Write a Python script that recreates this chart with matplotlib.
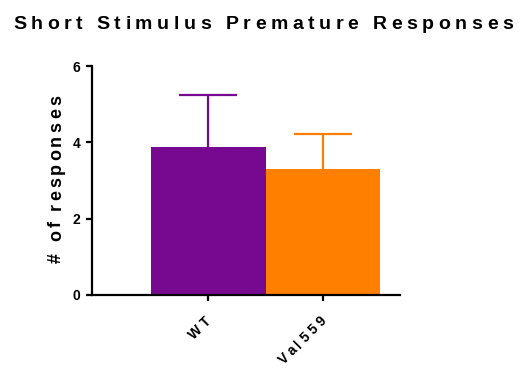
import numpy as np
import matplotlib
matplotlib.use("Agg")
import matplotlib.pyplot as plt
from matplotlib.font_manager import FontProperties, findfont
from matplotlib.ft2font import FT2Font
from matplotlib.transforms import IdentityTransform

# data
groups = ["WT", "Val559"]
means = [3.88, 3.29]
sems = [1.36, 0.93]
colors = ["#76098F", "#FF8000"]
yticks = [0, 2, 4, 6]

FONT = "Liberation Sans"
DPI = 100

fig = plt.figure(figsize=(5.25, 3.75), dpi=DPI, facecolor="white")
ax = fig.add_axes([92 / 525, 80 / 375, 308 / 525, 229 / 375])


def spaced_text(x, y, s, size, track, angle=0, align="center"):
    # letter-spaced bold text, x/y in pixels from the lower left corner
    fp = FontProperties(family=FONT, weight="bold", size=size)
    ft = FT2Font(findfont(fp))
    ft.set_size(size, DPI)
    adv = [ft.load_char(ord(c)).linearHoriAdvance / 65536 for c in s]
    total = sum(adv) + track * (len(s) - 1)
    pos = {"left": 0, "center": -total / 2, "right": -total}[align]
    ux, uy = np.cos(np.deg2rad(angle)), np.sin(np.deg2rad(angle))
    for c, a in zip(s, adv):
        fig.text(x + pos * ux, y + pos * uy, c, transform=IdentityTransform(),
                 fontproperties=fp, rotation=angle, rotation_mode="anchor",
                 ha="left", va="baseline", color="black")
        pos += a + track


x = np.arange(len(groups))
for xi, m, e, c in zip(x, means, sems, colors):
    eb = ax.errorbar(xi, m, yerr=[[0], [e]], fmt="none", ecolor=c,
                     elinewidth=1.6, capsize=21, capthick=1.6, zorder=1)
    # only the upper cap is wanted
    for cap in eb[1]:
        if np.allclose(cap.get_ydata(), m):
            cap.set_visible(False)
    ax.bar(xi, m, width=1.0, color=c, zorder=2)

ax.set_xlim(-1.01, 1.67)
ax.set_ylim(0, 6)
ax.set_yticks(yticks)
ax.set_xticks(x)
ax.set_xticklabels([])

for side in ["top", "right"]:
    ax.spines[side].set_visible(False)
for side in ["left", "bottom"]:
    ax.spines[side].set_linewidth(1.6)

ax.tick_params(axis="both", direction="out", length=4, width=1.6, color="black")
ax.tick_params(axis="y", pad=4.5)
for lab in ax.get_yticklabels():
    lab.set_fontproperties(FontProperties(family=FONT, weight="bold", size=10))

# rotated group labels under the ticks
for xi, g in zip(x, groups):
    px, py = ax.transData.transform((xi, 0))
    spaced_text(px + 4, py - 27, g, 10, 3.5, angle=45, align="right")

spaced_text(263, 346, "Short Stimulus Premature Responses", 14, 4.55)
spaced_text(61, 196, "# of responses", 13, 3.1, angle=90)

fig.savefig("out.png", dpi=DPI, facecolor="white")
